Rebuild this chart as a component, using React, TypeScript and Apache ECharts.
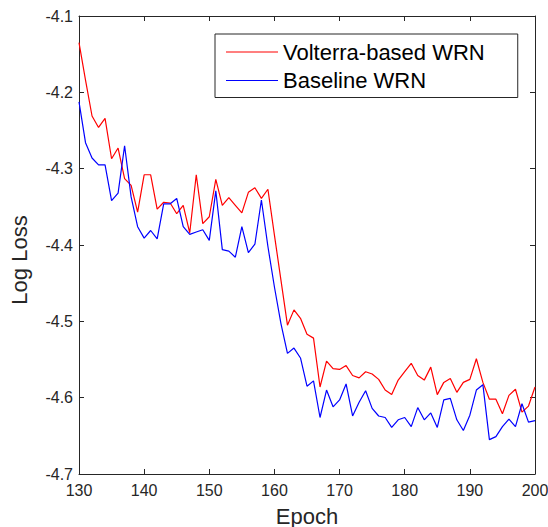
import React, { useEffect, useRef } from "react";
import * as echarts from "echarts";

const epochs: number[] = [];
for (let e = 130; e <= 200; e++) epochs.push(e);

const volterra: number[] = [
  -4.135, -4.184, -4.231, -4.246, -4.234, -4.287, -4.273, -4.313, -4.322, -4.357,
  -4.308, -4.308, -4.353, -4.344, -4.345, -4.359, -4.348, -4.384, -4.308, -4.372,
  -4.363, -4.314, -4.348, -4.338, -4.348, -4.358, -4.331, -4.325, -4.339, -4.327,
  -4.387, -4.446, -4.505, -4.485, -4.496, -4.517, -4.522, -4.586, -4.552, -4.562,
  -4.563, -4.558, -4.571, -4.574, -4.566, -4.569, -4.576, -4.590, -4.596, -4.577,
  -4.566, -4.555, -4.571, -4.577, -4.560, -4.596, -4.580, -4.575, -4.593, -4.580,
  -4.576, -4.549, -4.580, -4.602, -4.602, -4.621, -4.597, -4.589, -4.619, -4.611,
  -4.586,
];

const baseline: number[] = [
  -4.2125, -4.266, -4.286, -4.295, -4.295, -4.342, -4.332, -4.270, -4.337, -4.376,
  -4.391, -4.381, -4.392, -4.346, -4.346, -4.339, -4.376, -4.386, -4.383, -4.380,
  -4.394, -4.329, -4.406, -4.408, -4.416, -4.376, -4.410, -4.399, -4.341, -4.402,
  -4.455, -4.503, -4.542, -4.535, -4.548, -4.585, -4.578, -4.626, -4.590, -4.612,
  -4.603, -4.582, -4.624, -4.606, -4.591, -4.614, -4.624, -4.626, -4.639, -4.629,
  -4.626, -4.638, -4.613, -4.629, -4.620, -4.639, -4.603, -4.601, -4.629, -4.643,
  -4.623, -4.590, -4.583, -4.655, -4.651, -4.638, -4.628, -4.638, -4.608, -4.632,
  -4.630,
];

const seriesNames = ["Volterra-based WRN", "Baseline WRN"];
const xName = "Epoch";
const yName = "Log Loss";

const FONT = "'Liberation Sans', Arial, Helvetica, sans-serif";
const AXIS = "#262626";

export default function App() {
  const ref = useRef<HTMLDivElement>(null);
  useEffect(() => {
    if (!ref.current) return;
    const chart = echarts.init(ref.current, undefined, { renderer: "svg" });
    const axisCommon = {
      axisLine: { show: true, lineStyle: { color: AXIS, width: 1 } },
      axisTick: { show: true, inside: true, length: 5, lineStyle: { color: AXIS, width: 1 } },
      splitLine: { show: false },
    };
    chart.setOption({
      animation: false,
      backgroundColor: "#ffffff",
      grid: {
        left: 79,
        right: 13,
        top: 16,
        bottom: 53,
        containLabel: false,
        outerBoundsMode: "none",
      },
      legend: {
        data: seriesNames,
        orient: "vertical",
        left: 215,
        top: 34,
        icon: "rect",
        itemWidth: 52,
        itemHeight: 1.2,
        itemGap: 6.5,
        padding: [7, 33, 6, 11],
        borderColor: AXIS,
        borderWidth: 1,
        backgroundColor: "#ffffff",
        textStyle: { fontSize: 22, color: "#000000", fontFamily: FONT },
      },
      xAxis: [
        {
          type: "value",
          min: 130,
          max: 200,
          interval: 10,
          name: xName,
          nameLocation: "middle",
          nameGap: 31,
          nameTextStyle: { fontSize: 22, color: AXIS, fontFamily: FONT },
          axisLabel: { fontSize: 16, color: AXIS, fontFamily: FONT, margin: 8 },
          ...axisCommon,
        },
        {
          type: "value",
          position: "top",
          min: 130,
          max: 200,
          interval: 10,
          axisLabel: { show: false },
          ...axisCommon,
        },
      ],
      yAxis: [
        {
          type: "value",
          min: -4.7,
          max: -4.1,
          interval: 0.1,
          axisLabel: {
            fontSize: 16,
            color: AXIS,
            fontFamily: FONT,
            margin: 6,
            formatter: (v: number) => v.toFixed(1),
          },
          ...axisCommon,
        },
        {
          type: "value",
          position: "right",
          min: -4.7,
          max: -4.1,
          interval: 0.1,
          axisLabel: { show: false },
          ...axisCommon,
        },
      ],
      graphic: [
        {
          type: "text",
          x: 19,
          y: 260,
          rotation: Math.PI / 2,
          style: {
            text: yName,
            fontSize: 22,
            fontFamily: FONT,
            fill: AXIS,
            align: "center",
            verticalAlign: "middle",
          },
        },
      ],
      series: [
        {
          name: seriesNames[0],
          type: "line",
          data: epochs.map((e, i) => [e, volterra[i]]),
          showSymbol: false,
          symbol: "none",
          lineStyle: { color: "#ff0000", width: 1.2 },
          itemStyle: { color: "#ff0000" },
        },
        {
          name: seriesNames[1],
          type: "line",
          data: epochs.map((e, i) => [e, baseline[i]]),
          showSymbol: false,
          symbol: "none",
          lineStyle: { color: "#0000ff", width: 1.2 },
          itemStyle: { color: "#0000ff" },
        },
      ],
    });
    return () => chart.dispose();
  }, []);
  return (
    <div
      ref={ref}
      style={{ position: "fixed", left: 0, top: 0, width: 548, height: 527 }}
    />
  );
}
